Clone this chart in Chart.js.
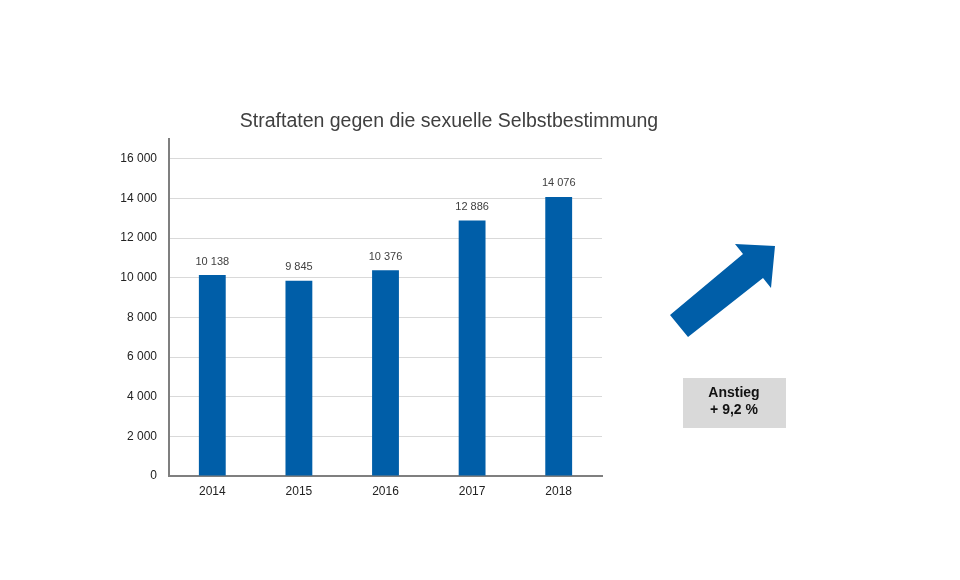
<!DOCTYPE html>
<html>
<head>
<meta charset="utf-8">
<script src="https://cdn.jsdelivr.net/npm/chart.js@4"></script>
<style>
  html, body { margin: 0; padding: 0; background: #fff; }
  #wrap { position: relative; width: 960px; height: 580px; }
</style>
</head>
<body>
<div id="wrap"><canvas id="chart" width="960" height="580"></canvas></div>
<script>
const years = ['2014', '2015', '2016', '2017', '2018'];
const cases = [10138, 9845, 10376, 12886, 14076];
const yTicks = [0, 2000, 4000, 6000, 8000, 10000, 12000, 14000, 16000];
const chartTitle = 'Straftaten gegen die sexuelle Selbstbestimmung';
const boxLines = ['Anstieg', '+ 9,2 %'];

const FONT = "'Liberation Sans', Arial, sans-serif";
const fmt = v => String(v).replace(/\B(?=(\d{3})+(?!\d))/g, ' ');

const extras = {
  id: 'extras',
  afterDatasetsDraw(chart) {
    const ctx = chart.ctx;
    const meta = chart.getDatasetMeta(0);
    ctx.save();
    ctx.font = '11px ' + FONT;
    ctx.fillStyle = '#404040';
    ctx.textAlign = 'center';
    ctx.textBaseline = 'bottom';
    meta.data.forEach((bar, i) => {
      ctx.fillText(fmt(cases[i]), bar.x, bar.y - 8);
    });
    ctx.restore();
  },
  afterDraw(chart) {
    const ctx = chart.ctx;
    ctx.save();
    // title
    ctx.font = '19.5px ' + FONT;
    ctx.fillStyle = '#404040';
    ctx.textAlign = 'center';
    ctx.textBaseline = 'middle';
    ctx.fillText(chartTitle, 449, 122);
    // arrow
    ctx.fillStyle = '#005ea8';
    ctx.beginPath();
    ctx.moveTo(670, 315);
    ctx.lineTo(743, 254);
    ctx.lineTo(735, 244);
    ctx.lineTo(775, 246);
    ctx.lineTo(771, 288);
    ctx.lineTo(763, 278);
    ctx.lineTo(688, 337);
    ctx.closePath();
    ctx.fill();
    // box
    ctx.fillStyle = '#d9d9d9';
    ctx.fillRect(683, 378, 103, 50);
    ctx.fillStyle = '#111';
    ctx.font = 'bold 14px ' + FONT;
    ctx.fillText(boxLines[0], 734, 393);
    ctx.fillText(boxLines[1], 734, 410);
    ctx.restore();
  }
};

new Chart(document.getElementById('chart'), {
  type: 'bar',
  data: {
    labels: years,
    datasets: [{
      data: cases,
      backgroundColor: '#005ea8',
      categoryPercentage: 1,
      barPercentage: 0.31
    }]
  },
  options: {
    responsive: false,
    animation: false,
    layout: { padding: { left: 0, top: 139, right: 358, bottom: 0 } },
    plugins: { legend: { display: false }, tooltip: { enabled: false }, title: { display: false } },
    scales: {
      x: {
        grid: { display: false, drawTicks: false },
        border: { color: '#7f7f7f', width: 2 },
        ticks: { color: '#222', font: { family: FONT, size: 12 }, padding: 8 },
        afterFit: s => { s.height = 104; }
      },
      y: {
        min: 0,
        max: 17000,
        afterBuildTicks: s => { s.ticks = yTicks.map(v => ({ value: v })); },
        grid: { color: '#d9d9d9', drawTicks: false },
        border: { color: '#7f7f7f', width: 2 },
        ticks: { color: '#222', font: { family: FONT, size: 12 }, padding: 12, callback: v => fmt(v) },
        afterFit: s => { s.width = 169; }
      }
    }
  },
  plugins: [extras]
});
</script>
</body>
</html>
